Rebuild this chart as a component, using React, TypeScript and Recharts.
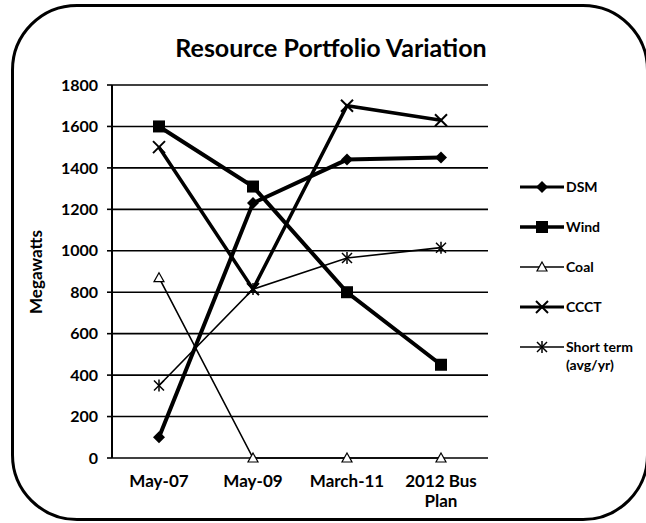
import { LineChart, Line, XAxis, YAxis, CartesianGrid, Legend } from 'recharts';

const categories = ['May-07', 'May-09', 'March-11', '2012 Bus Plan'];
const dsm = [100, 1230, 1440, 1450];
const wind = [1600, 1310, 800, 450];
const coal = [870, 0, 0, 0];
const ccct = [1500, 815, 1700, 1630];
const shortTerm = [350, 815, 965, 1015];
const yTicks = [0, 200, 400, 600, 800, 1000, 1200, 1400, 1600, 1800];
const boundaryTicks = [0, 1, 2, 3, 4];

const data = categories.map((c, i) => ({
  name: c,
  dsm: dsm[i],
  wind: wind[i],
  coal: coal[i],
  ccct: ccct[i],
  shortTerm: shortTerm[i],
}));

const FONT = 'Lato, "Open Sans", sans-serif';

type MarkProps = { cx?: number; cy?: number };

function Diamond({ cx = 0, cy = 0 }: MarkProps) {
  const r = 6;
  return <polygon points={`${cx},${cy - r} ${cx + r},${cy} ${cx},${cy + r} ${cx - r},${cy}`} fill="#000" />;
}

function Square({ cx = 0, cy = 0 }: MarkProps) {
  return <rect x={cx - 6} y={cy - 6} width={12} height={12} fill="#000" />;
}

function Triangle({ cx = 0, cy = 0 }: MarkProps) {
  const r = 5;
  return (
    <polygon
      points={`${cx},${cy - r} ${cx + r},${cy + r * 0.8} ${cx - r},${cy + r * 0.8}`}
      fill="#fff"
      stroke="#000"
      strokeWidth={1.2}
    />
  );
}

function Cross({ cx = 0, cy = 0 }: MarkProps) {
  const r = 6;
  return (
    <g stroke="#000" strokeWidth={2}>
      <line x1={cx - r} y1={cy - r} x2={cx + r} y2={cy + r} />
      <line x1={cx - r} y1={cy + r} x2={cx + r} y2={cy - r} />
    </g>
  );
}

function Star({ cx = 0, cy = 0 }: MarkProps) {
  const r = 5;
  return (
    <g stroke="#000" strokeWidth={1.5}>
      <line x1={cx - r} y1={cy - r} x2={cx + r} y2={cy + r} />
      <line x1={cx - r} y1={cy + r} x2={cx + r} y2={cy - r} />
      <line x1={cx} y1={cy - r - 1} x2={cx} y2={cy + r + 1} />
    </g>
  );
}

const SERIES = [
  { key: 'dsm', name: 'DSM', width: 4, legendWidth: 3, Mark: Diamond },
  { key: 'wind', name: 'Wind', width: 4, legendWidth: 3.5, Mark: Square },
  { key: 'coal', name: 'Coal', width: 1.6, legendWidth: 1.5, Mark: Triangle },
  { key: 'ccct', name: 'CCCT', width: 3.5, legendWidth: 3, Mark: Cross },
  { key: 'shortTerm', name: 'Short term (avg/yr)', width: 1.6, legendWidth: 1.5, Mark: Star },
];

function CategoryTick(props: any) {
  const { x, y, payload } = props;
  const label: string = payload.value;
  const parts = label.length > 9 ? [label.slice(0, label.lastIndexOf(' ')), label.slice(label.lastIndexOf(' ') + 1)] : [label];
  return (
    <text x={x} y={y + 21} textAnchor="middle" fontFamily={FONT} fontWeight={700} fontSize={17} fill="#000">
      {parts.map((p, i) => (
        <tspan key={i} x={x} dy={i === 0 ? 0 : 20}>
          {p}
        </tspan>
      ))}
    </text>
  );
}

function LegendContent() {
  return (
    <div style={{ fontFamily: FONT, fontWeight: 700, fontSize: 14, color: '#000' }}>
      {SERIES.map((s) => (
        <div key={s.key} style={{ display: 'flex', alignItems: 'flex-start', lineHeight: '18px', marginBottom: 22 }}>
          <svg width={46} height={18} style={{ flex: 'none' }}>
            <line x1={0} y1={9} x2={44} y2={9} stroke="#000" strokeWidth={s.legendWidth} />
            <s.Mark cx={22} cy={9} />
          </svg>
          <span style={{ width: 80 }}>{s.name}</span>
        </div>
      ))}
    </div>
  );
}

export default function App() {
  return (
    <div style={{ position: 'absolute', left: 0, top: 0, width: 646, height: 523, background: '#fff', overflow: 'hidden' }}>
      <div
        style={{
          position: 'absolute',
          left: 11,
          top: 4,
          width: 638,
          height: 517,
          boxSizing: 'border-box',
          border: '3px solid #000',
          borderRadius: 66,
        }}
      />
      <div
        style={{
          position: 'absolute',
          left: 0,
          width: 662,
          top: 32,
          textAlign: 'center',
          fontFamily: FONT,
          fontWeight: 700,
          fontSize: 25,
          lineHeight: '30px',
        }}
      >
        Resource Portfolio Variation
      </div>
      <div
        style={{
          position: 'absolute',
          left: 35,
          top: 272,
          transform: 'translate(-50%, -50%) rotate(-90deg)',
          fontFamily: FONT,
          fontWeight: 700,
          fontSize: 17,
          whiteSpace: 'nowrap',
        }}
      >
        Megawatts
      </div>
      <div style={{ position: 'absolute', left: 0, top: 0 }}>
        <LineChart width={646} height={523} data={data} margin={{ top: 85, right: 158, left: 52, bottom: 35 }}>
          <CartesianGrid vertical={false} stroke="#000" strokeWidth={1.6} xAxisId="cat" />
          <XAxis
            xAxisId="bounds"
            type="number"
            domain={[0, 4]}
            ticks={boundaryTicks}
            tick={false}
            height={0}
            axisLine={{ stroke: '#000', strokeWidth: 2 }}
            tickLine={{ stroke: '#000', strokeWidth: 2 }}
            tickSize={5}
          />
          <XAxis
            xAxisId="cat"
            dataKey="name"
            axisLine={false}
            tickLine={false}
            height={30}
            interval={0}
            padding={{ left: 47, right: 47 }}
            tick={<CategoryTick />}
          />
          <YAxis
            width={60}
            domain={[0, 1800]}
            ticks={yTicks}
            interval={0}
            axisLine={{ stroke: '#000', strokeWidth: 2 }}
            tickLine={{ stroke: '#000', strokeWidth: 1.6 }}
            tickSize={5}
            tickMargin={9}
            tick={{ fontFamily: FONT, fontWeight: 700, fontSize: 16, fill: '#000' }}
          />
          <Legend
            layout="vertical"
            align="center"
            verticalAlign="middle"
            content={<LegendContent />}
            wrapperStyle={{ position: 'absolute', left: 520, top: 178, width: 126 }}
          />
          {SERIES.map((s) => (
            <Line
              key={s.key}
              xAxisId="cat"
              type="linear"
              dataKey={s.key}
              name={s.name}
              stroke="#000"
              strokeWidth={s.width}
              isAnimationActive={false}
              dot={(p: any) => <s.Mark key={`${s.key}-${p.index}`} cx={p.cx} cy={p.cy} />}
              activeDot={false}
            />
          ))}
        </LineChart>
      </div>
    </div>
  );
}
